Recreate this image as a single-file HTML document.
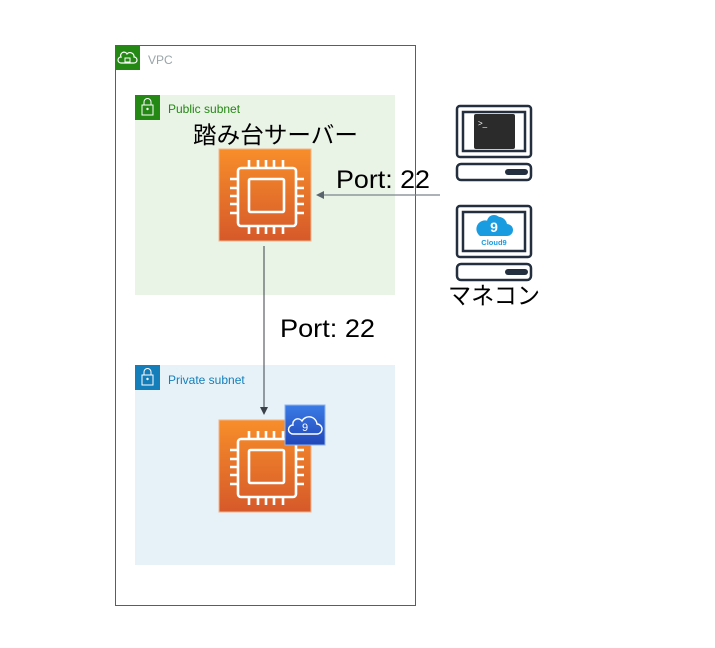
<!DOCTYPE html>
<html><head><meta charset="utf-8"><style>
html,body{margin:0;padding:0;background:#fff;}
svg{display:block;}
text{font-family:"Liberation Sans","Noto Sans CJK JP",sans-serif;}
</style></head><body>
<svg width="715" height="648" viewBox="0 0 715 648" xmlns="http://www.w3.org/2000/svg">
<defs>
<linearGradient id="og" x1="0" y1="0" x2="0" y2="1"><stop offset="0" stop-color="#f78e2a"/><stop offset="1" stop-color="#d6592a"/></linearGradient>
<linearGradient id="bg" x1="0" y1="0" x2="0" y2="1"><stop offset="0" stop-color="#3b7ce6"/><stop offset="1" stop-color="#2146b8"/></linearGradient>
<g id="chip">
<rect x="0" y="0" width="92" height="92" fill="url(#og)" stroke="#f3b48a" stroke-width="1"/>
<g fill="none" stroke="#fff" stroke-width="2.6">
<rect x="19" y="19" width="58" height="58" rx="3"/>
<rect x="30" y="30" width="35" height="33" rx="1.5"/>
<path d="M30 11V19M39 11V19M47 11V19M55 11V19M64 11V19M30 77V85M39 77V85M47 77V85M55 77V85M64 77V85M11 30H19M11 39H19M11 47H19M11 55H19M11 64H19M77 30H85M77 39H85M77 47H85M77 55H85M77 64H85"/>
</g>
</g>
</defs>
<!-- VPC -->
<rect x="115.5" y="45.5" width="300" height="560" fill="#fff" stroke="#248814" stroke-width="1"/>
<rect x="115" y="45" width="25" height="25" fill="#248814"/>
<path d="M121 63h13a3 3 0 0 0 0-6 4 4 0 0 0-7-3 3 3 0 0 0-6 3 3 3 0 0 0 0 6z" fill="none" stroke="#fff" stroke-width="1.2"/>
<rect x="125" y="58" width="5" height="4" fill="none" stroke="#fff" stroke-width="1"/>
<text x="148" y="64" font-size="12" fill="#9aa5a8">VPC</text>
<!-- Public subnet -->
<rect x="135" y="95" width="260" height="200" fill="#e9f3e6"/>
<rect x="135" y="95" width="25" height="25" fill="#248814"/>
<rect x="142" y="105" width="11" height="10" fill="none" stroke="#fff" stroke-width="1"/>
<path d="M144 105v-3a3.5 3.5 0 0 1 7 0v3" fill="none" stroke="#fff" stroke-width="1"/>
<circle cx="147.5" cy="109" r="1.2" fill="#fff"/>
<text x="168" y="113" font-size="12" fill="#248814">Public subnet</text>
<text x="193" y="143" font-size="23.5" fill="#000" textLength="165" lengthAdjust="spacingAndGlyphs">踏み台サーバー</text>
<use href="#chip" x="219" y="149"/>
<!-- Private subnet -->
<rect x="135" y="365" width="260" height="200" fill="#e6f2f8"/>
<rect x="135" y="365" width="25" height="25" fill="#147eba"/>
<rect x="142" y="375" width="11" height="10" fill="none" stroke="#fff" stroke-width="1"/>
<path d="M144 375v-3a3.5 3.5 0 0 1 7 0v3" fill="none" stroke="#fff" stroke-width="1"/>
<circle cx="147.5" cy="379" r="1.2" fill="#fff"/>
<text x="168" y="384" font-size="12" fill="#147eba">Private subnet</text>
<use href="#chip" x="219" y="420"/>
<rect x="285" y="405" width="40" height="40" fill="url(#bg)" stroke="#8fb4f0" stroke-width="1"/>
<path d="M293 434h24a5 5 0 0 0 0-10 8 8 0 0 0-15-3 5 5 0 0 0-9 4 4.5 4.5 0 0 0 0 9z" fill="none" stroke="#fff" stroke-width="1.4"/>
<text x="305" y="431" font-size="11" fill="#fff" text-anchor="middle">9</text>
<!-- connectors -->
<line x1="264" y1="246" x2="264" y2="408" stroke="#3a4148" stroke-width="1"/>
<path d="M260 407h8l-4 8z" fill="#3a4148"/>
<line x1="440" y1="195" x2="322" y2="195" stroke="#7a848c" stroke-width="1.2"/>
<path d="M316 195l8-4v8z" fill="#5a646c"/>
<text x="336" y="188" font-size="25" fill="#000" textLength="94" lengthAdjust="spacingAndGlyphs">Port: 22</text>
<text x="280" y="337" font-size="25" fill="#000" textLength="95" lengthAdjust="spacingAndGlyphs">Port: 22</text>
<!-- computers -->
<g fill="none" stroke="#232f3e" stroke-width="2.5">
<rect x="457" y="106" width="74" height="51" rx="3"/>
<rect x="463" y="112" width="62" height="39"/>
<rect x="457" y="164" width="74" height="16" rx="4"/>
<rect x="457" y="206" width="74" height="51" rx="3"/>
<rect x="463" y="212" width="62" height="39"/>
<rect x="457" y="264" width="74" height="16" rx="4"/>
</g>
<rect x="474" y="114" width="41" height="35" rx="2" fill="#2b2b2b"/>
<text x="478" y="126" font-size="8" fill="#fff">&gt;_</text>
<rect x="505" y="169" width="23" height="6" rx="3" fill="#232f3e"/>
<rect x="505" y="269" width="23" height="6" rx="3" fill="#232f3e"/>
<path d="M480 236h27a6 6 0 0 0 0-12 9 9 0 0 0-17-2 6.5 6.5 0 0 0-10 14z" fill="#1a9ce0"/>
<circle cx="494" cy="222" r="7" fill="#1a9ce0"/>
<text x="494" y="232" font-size="14" font-weight="bold" fill="#fff" text-anchor="middle">9</text>
<text x="494" y="245" font-size="7.5" font-weight="bold" fill="#1a9ce0" text-anchor="middle">Cloud9</text>
<text x="448" y="304" font-size="24" fill="#000" textLength="92" lengthAdjust="spacingAndGlyphs">マネコン</text>
</svg>
</body></html>
